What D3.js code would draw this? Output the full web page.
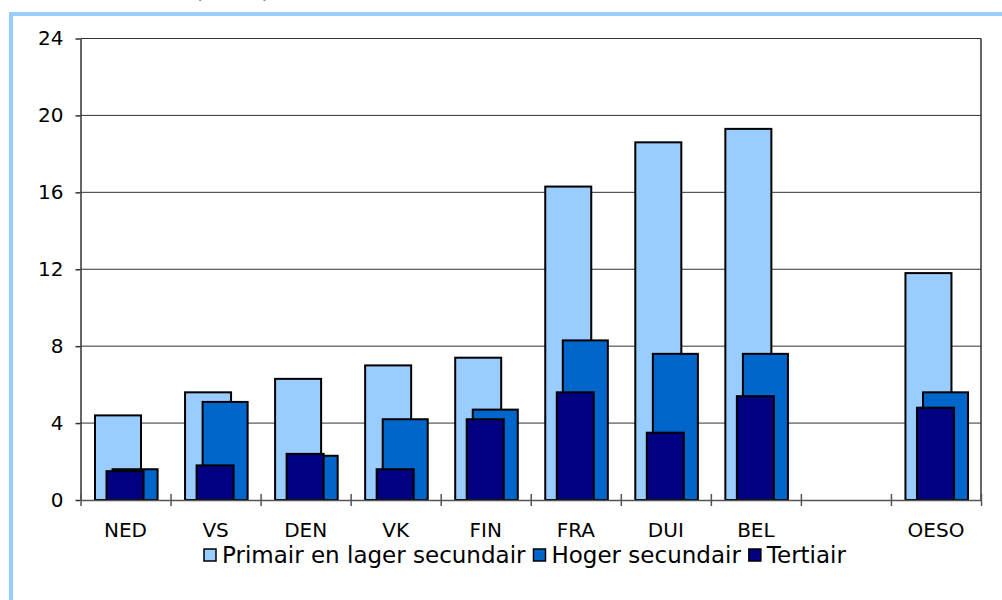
<!DOCTYPE html>
<html>
<head>
<meta charset="utf-8">
<script src="https://cdn.jsdelivr.net/npm/d3@7"></script>
<style>
  body { margin: 0; background: #fff; }
  svg { display: block; font-family: "DejaVu Sans", Verdana, sans-serif; }
</style>
</head>
<body>
<svg id="chart"></svg>
<script>
// categories, the empty one is the gap before OESO
var categories = ["NED", "VS", "DEN", "VK", "FIN", "FRA", "DUI", "BEL", "", "OESO"];
var primair = [4.4, 5.6, 6.3, 7.0, 7.4, 16.3, 18.6, 19.3, null, 11.8];
var hoger = [1.6, 5.1, 2.3, 4.2, 4.7, 8.3, 7.6, 7.6, null, 5.6];
var tertiair = [1.5, 1.8, 2.4, 1.6, 4.2, 5.6, 3.5, 5.4, null, 4.8];
var yTicks = [0, 4, 8, 12, 16, 20, 24];
var legendLabels = ["Primair en lager secundair", "Hoger secundair", "Tertiair"];

var width = 1002, height = 600;
var margin = {top: 38.5, left: 80.5, right: 21, bottom: 100};

var svg = d3.select("#chart").attr("width", width).attr("height", height);

// title is cut off at the top in the original, only parentheses show
svg.append("text")
  .attr("x", 194).attr("y", -2)
  .attr("font-size", 23)
  .text("(2002)");

// light blue frame
svg.append("rect")
  .attr("x", 11).attr("y", 14)
  .attr("width", 1100).attr("height", 700)
  .attr("fill", "none")
  .attr("stroke", "#99ccff")
  .attr("stroke-width", 4);

var x = d3.scaleBand()
  .domain(categories)
  .range([margin.left, width - margin.right])
  .padding(0);

var y = d3.scaleLinear()
  .domain([0, 24])
  .range([500, margin.top]);

var idx = d3.scaleLinear()
  .domain([0, categories.length])
  .range([margin.left, width - margin.right]);

// gridlines
svg.append("g")
  .selectAll("line")
  .data(yTicks.slice(1))
  .enter().append("line")
  .attr("x1", margin.left).attr("x2", width - margin.right)
  .attr("y1", function (d) { return y(d) })
  .attr("y2", function (d) { return y(d) })
  .attr("stroke", "#333")
  .attr("stroke-width", 1);

// right border of the plot
svg.append("line")
  .attr("x1", width - margin.right).attr("x2", width - margin.right)
  .attr("y1", y(24)).attr("y2", y(0))
  .attr("stroke", "#333").attr("stroke-width", 1.5);

// bars: left offset and width as a fraction of a category
var series = [
  {values: primair, color: "#99ccff", off: 0.161, w: 0.511},
  {values: hoger, color: "#0066cc", off: 0.356, w: 0.5},
  {values: tertiair, color: "#000080", off: 0.289, w: 0.411}
];

series.forEach(function (s) {
  svg.append("g")
    .selectAll("rect")
    .data(categories.map(function (c, i) { return {cat: c, v: s.values[i]} })
      .filter(function (d) { return d.v != null }))
    .enter().append("rect")
    .attr("x", function (d) { return x(d.cat) + x.bandwidth() * s.off })
    .attr("width", x.bandwidth() * s.w)
    .attr("y", function (d) { return y(d.v) })
    .attr("height", function (d) { return y(0) - y(d.v) })
    .attr("fill", s.color)
    .attr("stroke", "#000")
    .attr("stroke-width", 2);
});

// y axis
var yAxis = svg.append("g")
  .attr("transform", "translate(" + margin.left + ",0)")
  .call(d3.axisLeft(y).tickValues(yTicks).tickSize(5).tickPadding(12).tickSizeOuter(0));
yAxis.selectAll("text").attr("font-size", 20).attr("fill", "#000").attr("font-family", "DejaVu Sans");
yAxis.selectAll("line, path").attr("stroke", "#333").attr("stroke-width", 1.5);

// x axis: ticks on category boundaries
var xAxis = svg.append("g")
  .attr("transform", "translate(0," + y(0) + ")")
  .call(d3.axisBottom(idx).tickValues(d3.range(categories.length + 1)).tickFormat("").tickSize(6).tickSizeOuter(0));
xAxis.selectAll("line").attr("y1", -6);
xAxis.selectAll("line, path").attr("stroke", "#555").attr("stroke-width", 1.5);

// category labels
var xLab = svg.append("g")
  .attr("transform", "translate(0," + y(0) + ")")
  .call(d3.axisBottom(x).tickSize(0).tickPadding(23));
xLab.select(".domain").remove();
xLab.selectAll("text").attr("font-size", 20).attr("fill", "#000").attr("font-family", "DejaVu Sans");

// legend
var legend = svg.append("g").attr("transform", "translate(0,555)");
var lx = 204;
legendLabels.forEach(function (lab, i) {
  var g = legend.append("g").attr("transform", "translate(" + lx + ",0)");
  g.append("rect")
    .attr("x", 0).attr("y", -6)
    .attr("width", 12).attr("height", 12)
    .attr("fill", series[i].color)
    .attr("stroke", "#000").attr("stroke-width", 1.5);
  var t = g.append("text")
    .attr("x", 18).attr("y", 8)
    .attr("font-size", 23)
    .text(lab);
  lx += 18 + t.node().getComputedTextLength() + 8;
});
</script>
</body>
</html>
